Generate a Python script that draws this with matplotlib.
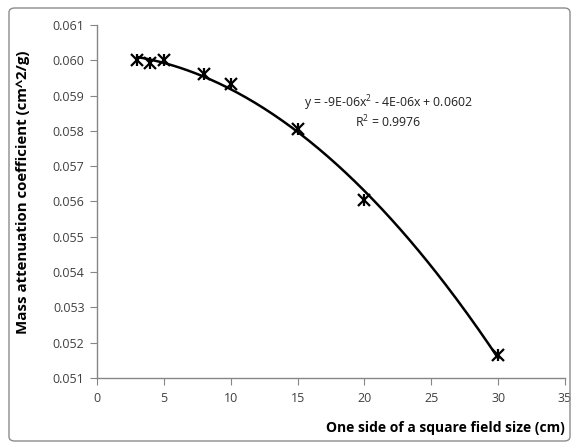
import numpy as np
import matplotlib
matplotlib.use("Agg")
import matplotlib.pyplot as plt
from matplotlib.patches import FancyBboxPatch

field_size = [3, 4, 5, 8, 10, 15, 20, 30]
mass_atten = [0.06000, 0.05991, 0.06001, 0.05962, 0.05932, 0.05806, 0.05603, 0.05164]
x_ticks = [0, 5, 10, 15, 20, 25, 30, 35]
y_ticks = [0.051, 0.052, 0.053, 0.054, 0.055, 0.056, 0.057, 0.058, 0.059, 0.060, 0.061]
eq_text = "y = -9E-06x$^2$ - 4E-06x + 0.0602"
r2_text = "R$^2$ = 0.9976"

plt.rcParams['font.family'] = ['Open Sans', 'DejaVu Sans']
plt.rcParams['mathtext.fontset'] = 'custom'
plt.rcParams['mathtext.rm'] = 'Open Sans'

fig = plt.figure(figsize=(5.79, 4.45), dpi=100)
border = FancyBboxPatch((9/579, 4/445), 1 - 18/579, 1 - 12/445,
                        boxstyle="round,pad=0,rounding_size=0.01",
                        transform=fig.transFigure, fill=False,
                        edgecolor='#8c8c8c', linewidth=1.0)
fig.patches.append(border)

ax = fig.add_axes([97/579, 1 - 378/445, (565 - 97)/579, (378 - 25)/445])
ax.set_xlim(0, 35)
ax.set_ylim(0.051, 0.061)
ax.set_xticks(x_ticks)
ax.set_yticks(y_ticks)
ax.set_yticklabels([f"{v:.3f}" for v in y_ticks])
for s in ['top', 'right']:
    ax.spines[s].set_visible(False)
for s in ['left', 'bottom']:
    ax.spines[s].set_color('#868686')
    ax.spines[s].set_linewidth(1.0)
ax.tick_params(axis='both', colors='#868686', labelcolor='#404040',
               labelsize=9, length=5, direction='out')
ax.tick_params(axis='x', pad=5)
ax.tick_params(axis='y', pad=4)

coef = np.polyfit(field_size, mass_atten, 2)
xs = np.linspace(min(field_size), max(field_size), 200)
ax.plot(xs, np.polyval(coef, xs), color='black', linewidth=1.8, zorder=2)

ax.plot(field_size, mass_atten, linestyle='none', marker='x', markersize=8,
        markeredgewidth=1.6, color='black', zorder=3)
ax.plot(field_size, mass_atten, linestyle='none', marker='|', markersize=8,
        markeredgewidth=1.6, color='black', zorder=3)

ax.text(21.8, 0.05879, eq_text, ha='center', va='center', fontsize=8.8, color='#202020')
ax.text(21.8, 0.05826, r2_text, ha='center', va='center', fontsize=8.8, color='#202020')

ax.set_ylabel("Mass attenuation coefficient (cm^2/g)", fontsize=10.8, fontweight='bold')
ax.yaxis.set_label_coords(-67/468, (378 - 192)/353)
ax.set_xlabel("One side of a square field size (cm)", fontsize=10, fontweight='bold')
ax.xaxis.set_label_coords(1.0, -(428 - 378)/353)
ax.xaxis.label.set_horizontalalignment('right')
ax.xaxis.label.set_verticalalignment('center')

fig.savefig("out.png", dpi=100)
